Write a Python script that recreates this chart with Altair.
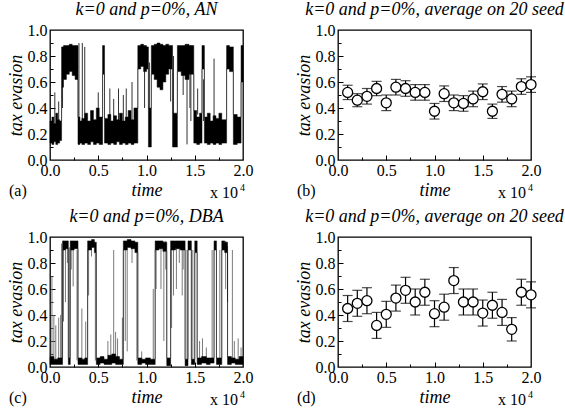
import altair as alt
import pandas as pd

FONT = "Liberation Serif"
W, H = 193, 130

# ---- panel (a): AN network, single run -------------------------------
# piecewise bands of the fluctuating series: start time (x1e4), lower, upper
an_start = [0.00, 0.02, 0.04, 0.06, 0.08, 0.10,
            0.12, 0.14, 0.17, 0.20, 0.23, 0.26,
            0.29, 0.31,
            0.33, 0.36, 0.39, 0.42, 0.45, 0.48, 0.51,
            0.545,
            0.565, 0.60, 0.63, 0.66, 0.69, 0.72, 0.75, 0.78, 0.81, 0.84, 0.87,
            0.91, 0.94, 0.97, 1.00,
            1.02,
            1.05, 1.08, 1.11, 1.14, 1.17, 1.20, 1.23,
            1.27,
            1.32, 1.36, 1.40, 1.44,
            1.49, 1.52, 1.55,
            1.575,
            1.60, 1.63, 1.66, 1.69, 1.72, 1.75, 1.78,
            1.83, 1.86,
            1.90, 1.94,
            1.98]
an_lo = [0.13, 0.12, 0.14, 0.12, 0.13, 0.15,
         0.56, 0.62, 0.66, 0.68, 0.65, 0.62,
         0.12, 0.13,
         0.12, 0.13, 0.12, 0.14, 0.12, 0.13, 0.12,
         0.66,
         0.13, 0.12, 0.13, 0.12, 0.14, 0.12, 0.13, 0.12, 0.13, 0.12, 0.13,
         0.70, 0.72, 0.68, 0.70,
         0.10,
         0.66, 0.62, 0.56, 0.54, 0.60, 0.66, 0.70,
         0.10,
         0.68, 0.65, 0.62, 0.66,
         0.13, 0.12, 0.13,
         0.70,
         0.13, 0.12, 0.13, 0.12, 0.13, 0.12, 0.13,
         0.70, 0.68,
         0.12, 0.13,
         0.60]
an_hi = [0.30, 0.33, 0.28, 0.36, 0.31, 0.30,
         0.87, 0.88, 0.88, 0.89, 0.88, 0.88,
         0.33, 0.30,
         0.32, 0.36, 0.30, 0.38, 0.31, 0.40, 0.33,
         0.88,
         0.32, 0.35, 0.30, 0.34, 0.31, 0.36, 0.30, 0.33, 0.38, 0.31, 0.40,
         0.88, 0.89, 0.88, 0.87,
         0.40,
         0.88, 0.89, 0.90, 0.89, 0.88, 0.89, 0.88,
         0.36,
         0.88, 0.88, 0.89, 0.88,
         0.38, 0.33, 0.36,
         0.88,
         0.33, 0.36, 0.30, 0.34, 0.32, 0.36, 0.31,
         0.88, 0.87,
         0.35, 0.33,
         0.88]
# isolated excursions: time, lower, upper
an_spike_t = [0.05, 0.09, 0.13, 0.30, 0.335, 0.36, 0.50, 0.62, 0.66, 0.71,
              0.76, 0.79, 0.85, 0.98, 1.03, 1.25, 1.28, 1.38, 1.42, 1.45,
              1.46, 1.53, 1.59, 1.70]
an_spike_lo = [0.15, 0.20, 0.40, 0.30, 0.30, 0.30, 0.30, 0.30, 0.30, 0.30,
               0.30, 0.30, 0.30, 0.40, 0.40, 0.45, 0.35, 0.50, 0.12, 0.40,
               0.30, 0.35, 0.30, 0.30]
an_spike_hi = [0.52, 0.45, 0.60, 0.90, 0.90, 0.87, 0.52, 0.55, 0.47, 0.55,
               0.50, 0.55, 0.60, 0.70, 0.75, 0.70, 0.80, 0.70, 0.65, 0.70,
               0.88, 0.55, 0.62, 0.78]

# ---- panel (c): DBA network, single run ------------------------------
dba_start = [0.00, 0.04, 0.08,
             0.13, 0.16,
             0.19,
             0.21, 0.25,
             0.29, 0.33, 0.36,
             0.39, 0.43, 0.46,
             0.48, 0.52, 0.56, 0.60, 0.64, 0.68, 0.72,
             0.76, 0.80, 0.84, 0.88,
             0.91, 0.95, 0.99, 1.04,
             1.09, 1.13, 1.17,
             1.21,
             1.25, 1.30, 1.35,
             1.40,
             1.43,
             1.465,
             1.50,
             1.525, 1.57, 1.62, 1.66,
             1.70,
             1.725,
             1.78, 1.81,
             1.84, 1.88, 1.92, 1.96]
dba_lo = [0.02, 0.02, 0.02,
          0.90, 0.91,
          0.02,
          0.90, 0.91,
          0.02, 0.02, 0.02,
          0.90, 0.92, 0.88,
          0.02, 0.03, 0.02, 0.02, 0.03, 0.02, 0.02,
          0.90, 0.92, 0.91, 0.88,
          0.02, 0.03, 0.02, 0.02,
          0.90, 0.91, 0.89,
          0.01,
          0.90, 0.91, 0.90,
          0.01,
          0.90,
          0.02,
          0.88,
          0.02, 0.03, 0.02, 0.03,
          0.90,
          0.02,
          0.90, 0.88,
          0.02, 0.03, 0.02, 0.02]
dba_hi = [0.08, 0.06, 0.07,
          0.97, 0.97,
          0.07,
          0.97, 0.97,
          0.07, 0.06, 0.07,
          0.97, 0.98, 0.96,
          0.07, 0.08, 0.06, 0.09, 0.10, 0.08, 0.06,
          0.97, 0.98, 0.97, 0.96,
          0.07, 0.06, 0.07, 0.06,
          0.97, 0.97, 0.96,
          0.07,
          0.97, 0.97, 0.97,
          0.06,
          0.97,
          0.06,
          0.97,
          0.07, 0.08, 0.07, 0.07,
          0.97,
          0.07,
          0.97, 0.96,
          0.08, 0.07, 0.06, 0.08]
dba_spike_t = [0.02, 0.04, 0.06, 0.09, 0.11, 0.12, 0.14, 0.16, 0.18, 0.20,
               0.22, 0.24, 0.28, 0.33, 0.37, 0.40, 0.43, 0.47, 0.60, 0.63,
               0.66, 0.68, 0.70, 0.75, 0.78, 0.80, 0.85, 0.90, 0.95, 1.07,
               1.10, 1.15, 1.18, 1.20, 1.26, 1.28, 1.31, 1.34, 1.37, 1.38,
               1.42, 1.48, 1.55, 1.58, 1.62, 1.68, 1.76, 1.82, 1.84, 1.89,
               1.91, 1.95, 1.98]
dba_spike_lo = [0.05, 0.05, 0.05, 0.05, 0.05, 0.05, 0.35, 0.50, 0.80, 0.05,
                0.75, 0.62, 0.05, 0.05, 0.05, 0.55, 0.85, 0.05, 0.05, 0.05,
                0.05, 0.05, 0.05, 0.05, 0.20, 0.12, 0.80, 0.05, 0.05, 0.05,
                0.60, 0.60, 0.20, 0.75, 0.30, 0.55, 0.60, 0.80, 0.55, 0.75,
                0.05, 0.05, 0.05, 0.05, 0.05, 0.05, 0.05, 0.60, 0.50, 0.05,
                0.05, 0.05, 0.05]
dba_spike_hi = [0.70, 0.40, 0.32, 0.38, 0.40, 0.95, 0.97, 0.97, 0.97, 0.92,
                0.97, 0.97, 0.90, 0.45, 0.35, 0.97, 0.97, 0.90, 0.20, 0.25,
                0.90, 0.27, 0.22, 0.38, 0.95, 0.92, 0.97, 0.90, 0.12, 0.60,
                0.97, 0.97, 0.97, 0.97, 0.97, 0.97, 0.97, 0.97, 0.97, 0.97,
                0.90, 0.90, 0.20, 0.22, 0.15, 0.90, 0.90, 0.97, 0.93, 0.90,
                0.20, 0.22, 0.15]

# ---- panels (b) and (d): average over 20 seeds ------------------------
avg_t = [0.1, 0.2, 0.3, 0.4, 0.5, 0.6, 0.7, 0.8, 0.9, 1.0,
         1.1, 1.2, 1.3, 1.4, 1.5, 1.6, 1.7, 1.8, 1.9, 2.0]
an_mean = [0.52, 0.46, 0.49, 0.55, 0.44, 0.56, 0.55, 0.52, 0.52, 0.375,
           0.51, 0.44, 0.435, 0.47, 0.525, 0.375, 0.505, 0.47, 0.565, 0.58]
an_err = [0.055, 0.05, 0.06, 0.055, 0.06, 0.06, 0.06, 0.06, 0.06, 0.06,
          0.06, 0.06, 0.06, 0.06, 0.06, 0.055, 0.06, 0.06, 0.06, 0.06]
dba_mean = [0.45, 0.49, 0.51, 0.32, 0.405, 0.53, 0.59, 0.50, 0.575, 0.41,
            0.46, 0.665, 0.50, 0.50, 0.415, 0.475, 0.42, 0.29, 0.575, 0.555]
dba_err = [0.10, 0.10, 0.10, 0.10, 0.10, 0.10, 0.10, 0.10, 0.10, 0.10,
           0.10, 0.10, 0.10, 0.10, 0.10, 0.10, 0.10, 0.09, 0.10, 0.10]

X_SCALE = alt.Scale(domain=[0, 2], nice=False, zero=False)
Y_SCALE = alt.Scale(domain=[0, 1], nice=False, zero=False)
BOX = pd.DataFrame({"x": [0.0, 2.0], "y": [0.0, 1.0]})
ONE = pd.DataFrame({"k": [0]})


def axis_layers():
    """Labelled axes plus inward major/minor ticks on left and bottom."""
    labelled = alt.Chart(BOX).mark_point(opacity=0).encode(
        x=alt.X("x:Q", scale=X_SCALE, axis=alt.Axis(
            orient="bottom", values=[0, 0.5, 1.0, 1.5, 2.0], format=".1f",
            ticks=False, domain=False, grid=False, title="time",
            labelFont=FONT, labelFontSize=16, labelColor="black",
            labelFlush=False, labelOverlap=False, labelPadding=2,
            titleFont=FONT, titleFontSize=18, titleFontStyle="italic",
            titleFontWeight="normal", titleColor="black", titlePadding=3)),
        y=alt.Y("y:Q", scale=Y_SCALE, axis=alt.Axis(
            orient="left", values=[0, 0.2, 0.4, 0.6, 0.8, 1.0], format=".1f",
            ticks=False, domain=False, grid=False, title="tax evasion",
            labelFont=FONT, labelFontSize=16, labelColor="black",
            labelFlush=False, labelOverlap=False, labelPadding=3,
            titleFont=FONT, titleFontSize=18, titleFontStyle="italic",
            titleFontWeight="normal", titleColor="black", titlePadding=2)),
    )

    def ticks(xv, yv, size):
        return alt.Chart(BOX).mark_point(opacity=0).encode(
            x=alt.X("x:Q", scale=X_SCALE, axis=alt.Axis(
                orient="bottom", values=xv, labels=False, domain=False,
                grid=False, title=None, tickSize=size, offset=-size,
                tickColor="black", tickWidth=1)),
            y=alt.Y("y:Q", scale=Y_SCALE, axis=alt.Axis(
                orient="left", values=yv, labels=False, domain=False,
                grid=False, title=None, tickSize=size, offset=-size,
                tickColor="black", tickWidth=1)),
        )

    major = ticks([0.5, 1.0, 1.5], [0.2, 0.4, 0.6, 0.8], 5)
    minor = ticks([0.25, 0.75, 1.25, 1.75], [0.1, 0.3, 0.5, 0.7, 0.9], 3)
    return [labelled, major, minor]


def annotations(tag):
    t = alt.Chart(ONE)
    mult = t.mark_text(font=FONT, fontSize=16, align="left",
                       baseline="alphabetic", color="black").encode(
        x=alt.value(160), y=alt.value(168), text=alt.value("x 10"))
    power = t.mark_text(font=FONT, fontSize=10, align="left",
                        baseline="alphabetic", color="black").encode(
        x=alt.value(190), y=alt.value(161), text=alt.value("4"))
    label = t.mark_text(font=FONT, fontSize=16, align="left",
                        baseline="alphabetic", color="black").encode(
        x=alt.value(-41), y=alt.value(166), text=alt.value(tag))
    return [mult, power, label]


def panel(marks, title, tag):
    return alt.layer(*axis_layers(), *marks, *annotations(tag)).resolve_axis(
        x="independent", y="independent"
    ).properties(
        width=W, height=H,
        title=alt.TitleParams(title, font=FONT, fontSize=18,
                              fontStyle="italic", fontWeight="normal",
                              color="black", anchor="middle", offset=3),
    )


def series_marks(start, lo, hi, sp_t, sp_lo, sp_hi, band_color, spike_color):
    # the last band is held until t = 2.0 so the stepped area reaches the edge
    bands = pd.DataFrame({"t": start + [2.0], "low": lo + [lo[-1]],
                          "high": hi + [hi[-1]]})
    spikes = pd.DataFrame({"t": sp_t, "lo": sp_lo, "hi": sp_hi})
    band = alt.Chart(bands).mark_area(
        fill=band_color, stroke=band_color, strokeWidth=0.5,
        interpolate="step-after", opacity=1
    ).encode(
        x=alt.X("t:Q", scale=X_SCALE, axis=None),
        y=alt.Y("high:Q", scale=Y_SCALE, axis=None, stack=None),
        y2="low:Q")
    spike = alt.Chart(spikes).mark_rule(color=spike_color, strokeWidth=1).encode(
        x=alt.X("t:Q", scale=X_SCALE, axis=None),
        y=alt.Y("lo:Q", scale=Y_SCALE, axis=None), y2="hi:Q")
    return [spike, band]


def average_marks(mean, err):
    df = pd.DataFrame({"t": avg_t, "m": mean,
                       "lo": [m - e for m, e in zip(mean, err)],
                       "hi": [m + e for m, e in zip(mean, err)]})
    base = alt.Chart(df)
    xe = alt.X("t:Q", scale=X_SCALE, axis=None)
    bars = base.mark_rule(color="black", strokeWidth=1.2).encode(
        x=xe, y=alt.Y("lo:Q", scale=Y_SCALE, axis=None), y2="hi:Q")
    cap_lo = base.mark_tick(color="black", orient="horizontal", size=10,
                            thickness=1.2).encode(
        x=xe, y=alt.Y("lo:Q", scale=Y_SCALE, axis=None))
    cap_hi = base.mark_tick(color="black", orient="horizontal", size=10,
                            thickness=1.2).encode(
        x=xe, y=alt.Y("hi:Q", scale=Y_SCALE, axis=None))
    dots = base.mark_point(shape="circle", filled=True, fill="white",
                           stroke="black", strokeWidth=1.3, size=100,
                           opacity=1).encode(
        x=xe, y=alt.Y("m:Q", scale=Y_SCALE, axis=None))
    return [bars, cap_lo, cap_hi, dots]


pa = panel(series_marks(an_start, an_lo, an_hi, an_spike_t, an_spike_lo,
                        an_spike_hi, "black", "#333333"),
           "k=0 and p=0%,  AN", "(a)")
pb = panel(average_marks(an_mean, an_err),
           "k=0 and p=0%, average on 20 seed", "(b)")
pc = panel(series_marks(dba_start, dba_lo, dba_hi, dba_spike_t, dba_spike_lo,
                        dba_spike_hi, "black", "#7a7a7a"),
           "k=0 and p=0%, DBA", "(c)")
pd_ = panel(average_marks(dba_mean, dba_err),
            "k=0 and p=0%, average on 20 seed", "(d)")

chart = alt.concat(pa, pb, pc, pd_, columns=2,
                   spacing=alt.RowColnumber(row=77, column=95),
                   bounds="flush").properties(
    padding={"left": 6, "top": 0, "right": 0, "bottom": 0},
    background="white",
).configure_view(stroke="black", strokeWidth=1.3)

chart.save("out.html", embed_options={"renderer": "svg", "actions": False})
